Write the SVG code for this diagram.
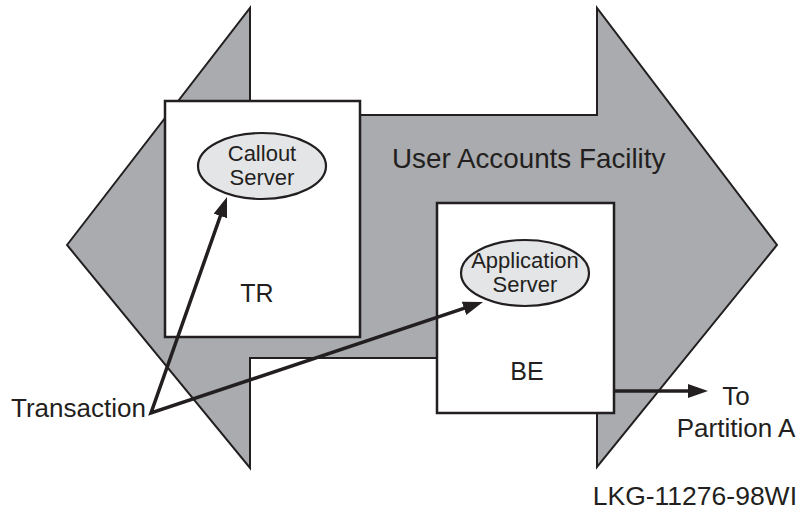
<svg xmlns="http://www.w3.org/2000/svg" width="800" height="510" viewBox="0 0 800 510">
<style>
text{font-family:"Liberation Sans",Arial,Helvetica,sans-serif;fill:#231f20}
.box{fill:#ffffff;stroke:#231f20;stroke-width:2.5}
.ell{fill:#e4e5e7;stroke:#231f20;stroke-width:2.2}
.con{fill:none;stroke:#231f20;stroke-width:3.5;stroke-linejoin:miter}
.lbl{font-size:22px;text-anchor:middle}
.big{font-size:25px;text-anchor:middle}
</style>
<defs>
<marker id="ah" viewBox="0 0 20 14" refX="10" refY="7" markerWidth="20" markerHeight="14" markerUnits="userSpaceOnUse" orient="auto-start-reverse">
<path d="M0,0 L20,7 L0,14 z" fill="#231f20"/>
</marker>
</defs>
<rect width="800" height="510" fill="#ffffff"/>
<g id="facility">
<polygon points="67,245 250,8 250,115 597,115 597,8 777,245 597,467 597,358 250,358 250,468" fill="#a9abae" stroke="#231f20" stroke-width="2"/>
<text x="392" y="168" font-size="27.8">User Accounts Facility</text>
</g>
<g id="TR">
<rect class="box" x="165" y="101" width="195" height="236"/>
<text class="big" x="257" y="302">TR</text>
</g>
<g id="callout">
<ellipse class="ell" cx="262" cy="166" rx="64" ry="33"/>
<text class="lbl" x="262" y="161">Callout</text>
<text class="lbl" x="262" y="185">Server</text>
</g>
<g id="BE">
<rect class="box" x="437" y="203" width="177" height="210"/>
<text class="big" x="527" y="380">BE</text>
</g>
<g id="application">
<ellipse class="ell" cx="525" cy="273" rx="64" ry="33"/>
<text class="lbl" x="525" y="268">Application</text>
<text class="lbl" x="525" y="292">Server</text>
</g>
<g id="transaction">
<text x="11" y="417" font-size="26">Transaction</text>
</g>
<g id="partition">
<text x="736" y="405" font-size="26" text-anchor="middle">To</text>
<text x="736" y="437" font-size="26" text-anchor="middle">Partition A</text>
</g>
<g id="connectors">
<path class="con" d="M223.7,206.5 L151,413 L473.5,305.2" marker-start="url(#ah)" marker-end="url(#ah)"/>
<path class="con" d="M614,391 L698,391" marker-end="url(#ah)"/>
</g>
<text x="797" y="505" font-size="26.5" text-anchor="end">LKG-11276-98WI</text>
</svg>
